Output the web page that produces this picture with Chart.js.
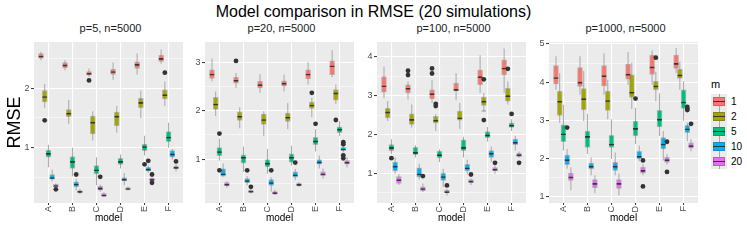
<!DOCTYPE html>
<html>
<head>
<meta charset="utf-8">
<script src="https://cdn.jsdelivr.net/npm/chart.js@4.4.1/dist/chart.umd.min.js"></script>
<style>
  body { margin: 0; width: 747px; height: 249px; position: relative; overflow: hidden; background: #fff;
         font-family: 'Liberation Sans', Arial, sans-serif; }
  .abs { position: absolute; }
  #title { left: 0; top: 3px; width: 747px; text-align: center; font-size: 16px; color: #000; }
  .strip { top: 22px; width: 153px; text-align: center; font-size: 11px; line-height: 13px; color: #1a1a1a; }
  canvas { position: absolute; top: 38px; }
  .legTitle { left: 711px; top: 78px; font-size: 11px; color: #000; }
  .key { left: 711px; width: 16px; height: 15px; background: #ebebeb; }
  .key .wh { position: absolute; left: 7.5px; top: 0; width: 1px; height: 15px; background: #a8a8a8; }
  .key .bx { position: absolute; left: 2px; top: 3px; width: 10px; height: 7px; border: 1px solid rgba(70,70,70,0.3); }
  .key .md { position: absolute; left: 2px; top: 7px; width: 12px; height: 1px; background: rgba(30,30,30,0.8); }
  .keyLab { left: 731px; font-size: 10px; line-height: 15px; color: #000; }
</style>
</head>
<body>
<div id="title" class="abs">Model comparison in RMSE (20 simulations)</div>

<script>
// ---- data ----
const categories = ['A', 'B', 'C', 'D', 'E', 'F'];
const mValues = ['1', '2', '5', '10', '20'];
const seriesColors = ['#F8766D', '#A3A500', '#00BF7D', '#00B0F6', '#E76BF3'];
const panelTitles = ['p=5, n=5000', 'p=20, n=5000', 'p=100, n=5000', 'p=1000, n=5000'];
const yLimits = [[0.071, 2.775], [0.096, 3.42], [0.237, 4.38], [0.837, 5.05]];

// box stats per m (rows) and model (cols): [lower whisker, q1, median, q3, upper whisker]
const statsP5 = [
  [[2.47, 2.50, 2.54, 2.58, 2.61], [2.30, 2.34, 2.39, 2.43, 2.47], [2.19, 2.22, 2.25, 2.28, 2.33], [2.14, 2.23, 2.28, 2.315, 2.43], [2.23, 2.33, 2.40, 2.44, 2.58], [2.41, 2.45, 2.50, 2.55, 2.65]],
  [[1.67, 1.77, 1.86, 1.96, 2.07], [1.40, 1.52, 1.58, 1.64, 1.80], [1.12, 1.23, 1.43, 1.53, 1.61], [1.25, 1.37, 1.53, 1.60, 1.70], [1.50, 1.67, 1.76, 1.83, 1.96], [1.70, 1.82, 1.89, 1.97, 2.11]],
  [[0.67, 0.84, 0.905, 0.96, 1.05], [0.52, 0.65, 0.77, 0.85, 1.00], [0.37, 0.56, 0.63, 0.70, 0.84], [0.65, 0.72, 0.77, 0.82, 0.885], [0.87, 0.95, 1.02, 1.06, 1.20], [1.00, 1.10, 1.18, 1.27, 1.42]],
  [[0.43, 0.47, 0.50, 0.55, 0.635], [0.28, 0.34, 0.39, 0.425, 0.48], [0.26, 0.29, 0.32, 0.35, 0.38], [0.37, 0.44, 0.47, 0.50, 0.575], [0.58, 0.61, 0.64, 0.67, 0.70], [0.80, 0.84, 0.895, 0.95, 0.98]],
  [[0.33, 0.345, 0.365, 0.385, 0.40], [0.22, 0.25, 0.265, 0.28, 0.31], [0.18, 0.19, 0.21, 0.23, 0.25], [0.28, 0.30, 0.315, 0.33, 0.35], [0.44, 0.45, 0.47, 0.49, 0.50], [0.60, 0.65, 0.67, 0.69, 0.72]]
];
const outliersP5 = [
  [[], [], [2.13], [], [], []],
  [[1.46], [], [], [], [], [2.26]],
  [[], [], [], [], [0.72], []],
  [[], [0.55], [0.51], [], [0.78], []],
  [[0.30], [], [], [], [0.55, 0.41], [0.77]]
];

const statsP20 = [
  [[2.61, 2.67, 2.76, 2.845, 3.08], [2.47, 2.57, 2.63, 2.69, 2.78], [2.37, 2.47, 2.54, 2.61, 2.755], [2.40, 2.51, 2.57, 2.62, 2.75], [2.54, 2.66, 2.76, 2.845, 3.00], [2.69, 2.745, 2.93, 3.03, 3.25]],
  [[1.89, 2.03, 2.14, 2.28, 2.40], [1.64, 1.80, 1.89, 1.98, 2.075], [1.48, 1.72, 1.82, 1.93, 1.99], [1.62, 1.78, 1.87, 1.95, 2.16], [1.87, 2.05, 2.12, 2.18, 2.27], [2.14, 2.22, 2.37, 2.44, 2.54]],
  [[0.97, 1.075, 1.16, 1.24, 1.42], [0.735, 0.92, 1.04, 1.09, 1.26], [0.70, 0.84, 0.92, 0.99, 1.21], [0.87, 0.94, 1.04, 1.11, 1.28], [1.16, 1.30, 1.38, 1.45, 1.62], [1.48, 1.55, 1.62, 1.67, 1.79]],
  [[0.64, 0.65, 0.70, 0.80, 0.91], [0.46, 0.51, 0.56, 0.60, 0.65], [0.33, 0.46, 0.52, 0.58, 0.63], [0.57, 0.63, 0.68, 0.74, 0.80], [0.81, 0.90, 0.945, 0.99, 1.075], [1.14, 1.18, 1.21, 1.245, 1.28]],
  [[0.41, 0.45, 0.485, 0.52, 0.55], [0.29, 0.32, 0.34, 0.36, 0.39], [0.26, 0.28, 0.31, 0.33, 0.37], [0.43, 0.45, 0.48, 0.50, 0.53], [0.60, 0.66, 0.70, 0.74, 0.81], [0.83, 0.90, 0.94, 0.97, 1.04]]
];
const outliersP20 = [
  [[], [3.03], [], [], [], []],
  [[], [], [], [], [2.37], [1.81]],
  [[1.53, 0.77], [], [], [], [1.73], []],
  [[], [0.77], [0.77], [0.93], [], [1.35, 1.31, 1.08, 1.02]],
  [[], [0.43], [], [], [], []]
];

const statsP100 = [
  [[2.93, 3.09, 3.255, 3.49, 3.75], [2.90, 3.07, 3.19, 3.28, 3.365], [2.81, 2.92, 3.05, 3.15, 3.41], [2.88, 3.12, 3.16, 3.32, 3.58], [3.07, 3.28, 3.49, 3.66, 4.04], [3.07, 3.53, 3.71, 3.92, 4.21]],
  [[2.35, 2.43, 2.58, 2.67, 2.86], [2.18, 2.26, 2.39, 2.53, 2.77], [2.09, 2.30, 2.37, 2.47, 2.52], [2.14, 2.37, 2.43, 2.60, 2.81], [2.60, 2.75, 2.86, 2.96, 3.07], [2.77, 2.86, 3.00, 3.19, 3.365]],
  [[1.50, 1.585, 1.67, 1.74, 1.88], [1.41, 1.48, 1.54, 1.67, 1.72], [1.29, 1.40, 1.48, 1.57, 1.62], [1.41, 1.585, 1.67, 1.86, 1.94], [1.82, 1.92, 1.99, 2.075, 2.195], [2.09, 2.18, 2.24, 2.30, 2.39]],
  [[0.99, 1.06, 1.185, 1.29, 1.41], [0.84, 0.905, 0.99, 1.14, 1.25], [0.65, 0.82, 0.92, 1.01, 1.12], [0.98, 1.06, 1.145, 1.23, 1.35], [1.29, 1.41, 1.52, 1.585, 1.69], [1.585, 1.74, 1.80, 1.88, 1.97]],
  [[0.70, 0.74, 0.84, 0.92, 0.99], [0.52, 0.55, 0.61, 0.65, 0.74], [0.43, 0.50, 0.53, 0.57, 0.60], [0.70, 0.765, 0.80, 0.84, 0.87], [0.99, 1.07, 1.11, 1.15, 1.20], [1.40, 1.43, 1.48, 1.52, 1.56]]
];
const outliersP100 = [
  [[], [3.64, 3.53], [3.70, 3.57], [], [], []],
  [[], [], [2.79, 2.73], [], [3.42, 2.37], [3.69]],
  [[1.39], [], [], [], [], [2.53]],
  [[], [], [], [], [], []],
  [[], [0.93], [0.69], [0.97], [1.27], [1.27]]
];

const statsP1000 = [
  [[3.80, 3.95, 4.12, 4.43, 4.68], [3.67, 3.89, 4.00, 4.38, 4.68], [3.67, 3.90, 4.17, 4.43, 4.75], [3.93, 4.08, 4.21, 4.47, 4.79], [3.93, 4.20, 4.40, 4.71, 4.83], [4.23, 4.36, 4.49, 4.71, 4.89]],
  [[2.94, 3.13, 3.50, 3.76, 4.23], [2.98, 3.28, 3.57, 3.83, 4.29], [3.03, 3.26, 3.52, 3.76, 4.06], [3.30, 3.60, 3.74, 4.19, 4.51], [3.50, 3.80, 3.90, 4.02, 4.27], [3.80, 4.10, 4.19, 4.34, 4.53]],
  [[2.21, 2.44, 2.65, 2.88, 3.41], [2.12, 2.29, 2.58, 2.72, 3.17], [1.99, 2.29, 2.38, 2.61, 3.03], [2.38, 2.59, 2.79, 2.98, 3.33], [2.59, 2.83, 3.03, 3.26, 3.71], [2.98, 3.31, 3.48, 3.80, 4.02]],
  [[1.73, 1.84, 1.97, 2.09, 2.25], [1.56, 1.73, 1.80, 1.88, 2.03], [1.56, 1.69, 1.80, 1.90, 2.16], [1.93, 1.99, 2.06, 2.19, 2.34], [1.95, 2.25, 2.38, 2.55, 2.72], [2.46, 2.68, 2.78, 2.87, 2.94]],
  [[1.17, 1.43, 1.52, 1.62, 1.775], [1.09, 1.24, 1.35, 1.45, 1.56], [1.03, 1.22, 1.35, 1.45, 1.60], [1.56, 1.62, 1.69, 1.77, 1.85], [1.84, 1.90, 1.97, 2.03, 2.12], [2.19, 2.27, 2.34, 2.41, 2.51]]
];
const outliersP1000 = [
  [[], [], [], [], [], []],
  [[], [], [], [], [4.64], []],
  [[], [], [], [3.57], [], []],
  [[2.81], [], [], [], [], [3.35, 3.30, 3.27]],
  [[], [], [], [1.95, 1.27], [2.44, 1.65], [2.91]]
];

const panelStats = [statsP5, statsP20, statsP100, statsP1000];
const panelOutliers = [outliersP5, outliersP20, outliersP100, outliersP1000];

// ---- layout ----
const FONT = "'Liberation Sans', Arial, sans-serif";
const panelLeft = [34, 205, 377, 549];
const canvasLeft = [0, 187, 358, 530];
const PANEL_W = 153;
const DODGE = 0.155;   // spacing of the m boxes inside one model

// grey panel background like ggplot
const panelBg = {
  id: 'panelBg',
  beforeDraw(chart) {
    const { ctx, chartArea: a } = chart;
    ctx.save();
    ctx.fillStyle = '#ebebeb';
    ctx.fillRect(a.left, a.top, a.width, a.height);
    ctx.restore();
  }
};

function buildDatasets(stats, outs) {
  const sets = [];
  stats.forEach((rows, si) => {
    const xOf = (ci) => ci + (si - 2) * DODGE;
    // whiskers
    sets.push({
      type: 'bar', order: 4, grouped: false, barThickness: 1, inflateAmount: 0,
      data: rows.map((r, ci) => ({ x: xOf(ci), y: [r[0], r[4]] })),
      backgroundColor: '#a8a8a8'
    });
    // boxes
    sets.push({
      type: 'bar', order: 3, grouped: false, barThickness: 5, borderSkipped: false,
      data: rows.map((r, ci) => ({ x: xOf(ci), y: [r[1], r[3]] })),
      backgroundColor: seriesColors[si], borderColor: 'rgba(70,70,70,0.3)', borderWidth: 1
    });
    // medians: only the top edge of this bar is drawn
    sets.push({
      type: 'bar', order: 2, grouped: false, barThickness: 5, borderSkipped: false,
      data: rows.map((r, ci) => ({ x: xOf(ci), y: [r[0], r[2]] })),
      backgroundColor: 'rgba(0,0,0,0)', borderColor: 'rgba(30,30,30,0.8)',
      borderWidth: { top: 1, right: 0, bottom: 0, left: 0 }
    });
    // outliers
    const pts = [];
    outs[si].forEach((vals, ci) => vals.forEach(v => pts.push({ x: xOf(ci), y: v })));
    sets.push({
      type: 'scatter', order: 1, data: pts,
      pointRadius: 2.4, backgroundColor: '#333333', borderWidth: 0
    });
  });
  return sets;
}

function makePanel(p) {
  const cv = document.createElement('canvas');
  const w = panelLeft[p] + PANEL_W - canvasLeft[p];
  cv.width = w; cv.height = 211;
  cv.style.left = canvasLeft[p] + 'px';
  document.body.appendChild(cv);

  const strip = document.createElement('div');
  strip.className = 'abs strip';
  strip.style.left = panelLeft[p] + 'px';
  strip.textContent = panelTitles[p];
  document.body.appendChild(strip);

  const [ymin, ymax] = yLimits[p];
  const axisW = panelLeft[p] - canvasLeft[p];
  const isMajor = (v) => Number.isInteger(v);

  new Chart(cv, {
    type: 'bar',
    data: { datasets: buildDatasets(panelStats[p], panelOutliers[p]) },
    plugins: [panelBg],
    options: {
      responsive: false,
      animation: false,
      layout: { padding: { top: 2, right: 0, bottom: 0, left: 0 } },
      plugins: { legend: { display: false }, tooltip: { enabled: false } },
      scales: {
        x: {
          type: 'linear', min: -0.6, max: 5.6, offset: false, bounds: 'data',
          afterBuildTicks: (s) => { s.ticks = categories.map((c, i) => ({ value: i })); },
          afterFit: (s) => { s.height = 46; s.paddingLeft = 0; s.paddingRight = 0; },
          grid: { color: '#ffffff', lineWidth: 1.1, offset: false, tickColor: '#333333', tickLength: 2, tickWidth: 1 },
          border: { display: false },
          ticks: {
            callback: (v) => categories[v], autoSkip: false, minRotation: 90, maxRotation: 90,
            padding: 1, color: '#4d4d4d', font: { family: FONT, size: 9 }
          },
          title: {
            display: true, text: 'model', color: '#000',
            font: { family: FONT, size: 10 }, padding: { top: 0, bottom: 25 }
          }
        },
        y: {
          type: 'linear', min: ymin, max: ymax, bounds: 'data',
          afterBuildTicks: (s) => {
            const t = [];
            for (let k = Math.ceil(ymin * 2); k / 2 <= ymax; k++) t.push({ value: k / 2 });
            s.ticks = t;
          },
          afterFit: (s) => { s.width = axisW; s.paddingTop = 0; s.paddingBottom = 0; },
          grid: {
            color: '#ffffff',
            lineWidth: (c) => (c.tick && isMajor(c.tick.value)) ? 1.1 : 0.55,
            tickColor: (c) => (c.tick && isMajor(c.tick.value)) ? '#333333' : 'rgba(0,0,0,0)',
            tickLength: 3, tickWidth: 1
          },
          border: { display: false },
          ticks: {
            callback: (v) => isMajor(v) ? v : '', autoSkip: false, padding: 1.5,
            color: '#4d4d4d', font: { family: FONT, size: 9 }
          },
          title: {
            display: p === 0, text: 'RMSE', color: '#000',
            font: { family: FONT, size: 18 }, padding: { top: 4, bottom: 0 }
          }
        }
      }
    }
  });
}

for (let p = 0; p < 4; p++) makePanel(p);

// legend
const lt = document.createElement('div');
lt.className = 'abs legTitle';
lt.textContent = 'm';
document.body.appendChild(lt);
mValues.forEach((m, i) => {
  const top = 93.5 + i * 15.2;
  const key = document.createElement('div');
  key.className = 'abs key';
  key.style.top = top + 'px';
  key.innerHTML = '<div class="wh"></div><div class="bx" style="background:' + seriesColors[i] + '"></div><div class="md"></div>';
  document.body.appendChild(key);
  const lab = document.createElement('div');
  lab.className = 'abs keyLab';
  lab.style.top = top + 'px';
  lab.textContent = m;
  document.body.appendChild(lab);
});
</script>
</body>
</html>
